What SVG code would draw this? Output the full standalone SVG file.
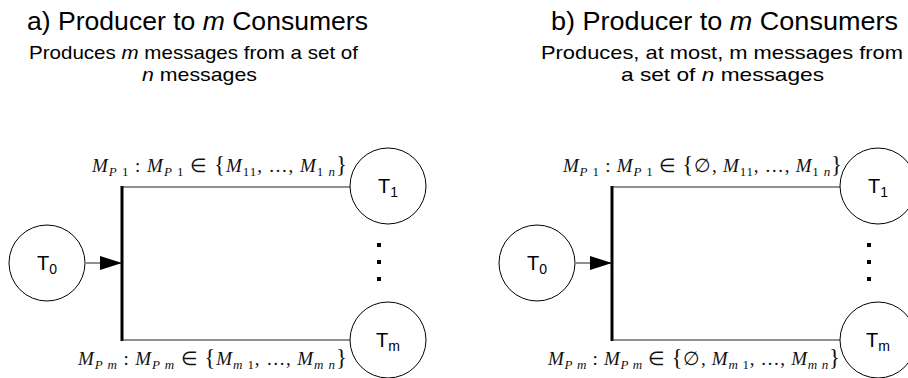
<svg xmlns="http://www.w3.org/2000/svg" width="908" height="378" viewBox="0 0 908 378">
<style>
.title{font-family:"Liberation Sans",Arial,sans-serif;font-size:25px;fill:#000}
.sub{font-family:"Liberation Sans",Arial,sans-serif;font-size:19px;fill:#000}
.it{font-style:italic}
.math{font-family:"Liberation Serif","Times New Roman",serif;font-size:19px;fill:#111}
.s{font-size:13px}
.br{font-size:23px}
.node{fill:#fff;stroke:#000;stroke-width:1}
.lbl{font-family:"Liberation Sans",Arial,sans-serif;font-size:20px;fill:#000}
.lsub{font-size:14px}
.line{stroke:#222;stroke-width:1.2;fill:none}
.bar{stroke:#000;stroke-width:3;fill:none}
.dot{fill:#000}
</style>
<defs>
<marker id="ah" markerWidth="22" markerHeight="14" refX="22" refY="7" orient="auto" markerUnits="userSpaceOnUse">
<path d="M0,0 L22,7 L0,14 Z" fill="#000"/>
</marker>
</defs>
<rect width="908" height="378" fill="#fff"/>

<g id="titles">
<text class="title" x="197.5" y="30" text-anchor="middle" textLength="341" lengthAdjust="spacingAndGlyphs">a) Producer to <tspan class="it">m</tspan> Consumers</text>
<text class="sub" x="193.5" y="59" text-anchor="middle" textLength="329" lengthAdjust="spacingAndGlyphs">Produces <tspan class="it">m</tspan> messages from a set of</text>
<text class="sub" x="199.5" y="81" text-anchor="middle" textLength="115" lengthAdjust="spacingAndGlyphs"><tspan class="it">n</tspan> messages</text>
<text class="title" x="724.5" y="30" text-anchor="middle" textLength="347" lengthAdjust="spacingAndGlyphs">b) Producer to <tspan class="it">m</tspan> Consumers</text>
<text class="sub" x="722" y="59" text-anchor="middle" textLength="362" lengthAdjust="spacingAndGlyphs">Produces, at most, m messages from</text>
<text class="sub" x="722.5" y="81" text-anchor="middle" textLength="203" lengthAdjust="spacingAndGlyphs">a set of <tspan class="it">n</tspan> messages</text>
</g>

<g id="connectors">
<line class="line" x1="86" y1="263" x2="122" y2="263" marker-end="url(#ah)"/>
<line class="bar" x1="122" y1="186" x2="122" y2="341"/>
<line class="line" x1="122" y1="187" x2="350" y2="187"/>
<line class="line" x1="122" y1="340" x2="350" y2="340"/>
<line class="line" x1="576" y1="263" x2="612" y2="263" marker-end="url(#ah)"/>
<line class="bar" x1="612" y1="186" x2="612" y2="341"/>
<line class="line" x1="612" y1="187" x2="840" y2="187"/>
<line class="line" x1="612" y1="340" x2="840" y2="340"/>
</g>

<g id="a-T0"><circle class="node" cx="47" cy="263" r="38"/><text class="lbl" x="47" y="270" text-anchor="middle">T<tspan class="lsub" dy="4">0</tspan></text></g>
<g id="a-T1"><circle class="node" cx="388" cy="186" r="38"/><text class="lbl" x="388" y="193" text-anchor="middle">T<tspan class="lsub" dy="4">1</tspan></text></g>
<g id="a-Tm"><circle class="node" cx="388" cy="340" r="38"/><text class="lbl" x="388" y="347" text-anchor="middle">T<tspan class="lsub" dy="4">m</tspan></text></g>
<g id="a-dots"><rect class="dot" x="377" y="243" width="4" height="4"/><rect class="dot" x="377" y="260" width="4" height="4"/><rect class="dot" x="377" y="277" width="4" height="4"/></g>

<g id="b-T0"><circle class="node" cx="537" cy="263" r="38"/><text class="lbl" x="537" y="270" text-anchor="middle">T<tspan class="lsub" dy="4">0</tspan></text></g>
<g id="b-T1"><circle class="node" cx="878" cy="186" r="38"/><text class="lbl" x="878" y="193" text-anchor="middle">T<tspan class="lsub" dy="4">1</tspan></text></g>
<g id="b-Tm"><circle class="node" cx="878" cy="340" r="38"/><text class="lbl" x="878" y="347" text-anchor="middle">T<tspan class="lsub" dy="4">m</tspan></text></g>
<g id="b-dots"><rect class="dot" x="867" y="243" width="4" height="4"/><rect class="dot" x="867" y="260" width="4" height="4"/><rect class="dot" x="867" y="277" width="4" height="4"/></g>

<g id="labels">
<text class="math" x="92" y="172" textLength="255" lengthAdjust="spacing"><tspan class="it">M</tspan><tspan class="s" dy="4"><tspan class="it">P</tspan> 1</tspan><tspan dy="-4"> : </tspan><tspan class="it">M</tspan><tspan class="s" dy="4"><tspan class="it">P</tspan> 1</tspan><tspan dy="-4"> ∈ </tspan><tspan class="br">{</tspan><tspan class="it">M</tspan><tspan class="s" dy="4">11</tspan><tspan dy="-4">, …, </tspan><tspan class="it">M</tspan><tspan class="s" dy="4">1 <tspan class="it">n</tspan></tspan><tspan class="br" dy="-4">}</tspan></text>
<text class="math" x="78" y="365" textLength="269" lengthAdjust="spacing"><tspan class="it">M</tspan><tspan class="s" dy="4"><tspan class="it">P m</tspan></tspan><tspan dy="-4"> : </tspan><tspan class="it">M</tspan><tspan class="s" dy="4"><tspan class="it">P m</tspan></tspan><tspan dy="-4"> ∈ </tspan><tspan class="br">{</tspan><tspan class="it">M</tspan><tspan class="s" dy="4"><tspan class="it">m</tspan> 1</tspan><tspan dy="-4">, …, </tspan><tspan class="it">M</tspan><tspan class="s it" dy="4">m n</tspan><tspan class="br" dy="-4">}</tspan></text>
<text class="math" x="563" y="172" textLength="279" lengthAdjust="spacing"><tspan class="it">M</tspan><tspan class="s" dy="4"><tspan class="it">P</tspan> 1</tspan><tspan dy="-4"> : </tspan><tspan class="it">M</tspan><tspan class="s" dy="4"><tspan class="it">P</tspan> 1</tspan><tspan dy="-4"> ∈ </tspan><tspan class="br">{</tspan>∅, <tspan class="it">M</tspan><tspan class="s" dy="4">11</tspan><tspan dy="-4">, …, </tspan><tspan class="it">M</tspan><tspan class="s" dy="4">1 <tspan class="it">n</tspan></tspan><tspan class="br" dy="-4">}</tspan></text>
<text class="math" x="548" y="365" textLength="292" lengthAdjust="spacing"><tspan class="it">M</tspan><tspan class="s" dy="4"><tspan class="it">P m</tspan></tspan><tspan dy="-4"> : </tspan><tspan class="it">M</tspan><tspan class="s" dy="4"><tspan class="it">P m</tspan></tspan><tspan dy="-4"> ∈ </tspan><tspan class="br">{</tspan>∅, <tspan class="it">M</tspan><tspan class="s" dy="4"><tspan class="it">m</tspan> 1</tspan><tspan dy="-4">, …, </tspan><tspan class="it">M</tspan><tspan class="s it" dy="4">m n</tspan><tspan class="br" dy="-4">}</tspan></text>
</g>
</svg>
